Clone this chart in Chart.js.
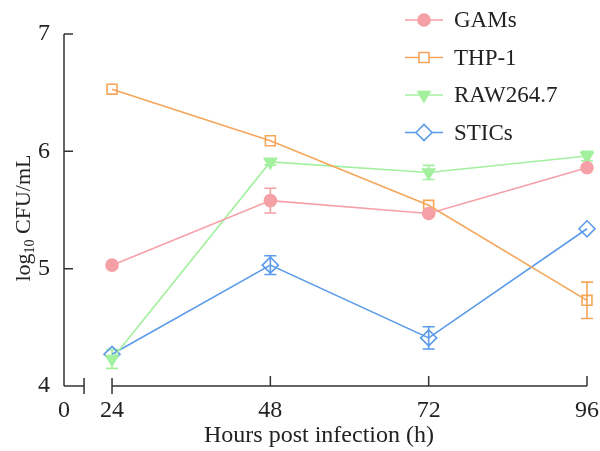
<!DOCTYPE html>
<html>
<head>
<meta charset="utf-8">
<script src="https://cdn.jsdelivr.net/npm/chart.js@4.4.0/dist/chart.umd.min.js"></script>
<style>
  html, body { margin: 0; padding: 0; background: #fff; }
  #wrap { width: 600px; height: 451px; position: relative; }
</style>
</head>
<body>
<div id="wrap"><canvas id="grafico"></canvas></div>
<script>
// datos
var hours = [24, 48, 72, 96];
var gams = [5.03, 5.58, 5.47, 5.86];
var gamsErr = [0, 0.105, 0, 0];
var thp1 = [6.53, 6.09, 5.54, 4.73];
var thp1Err = [0, 0, 0, 0.155];
var raw = [4.23, 5.91, 5.82, 5.96];
var rawErr = [0.08, 0.025, 0.06, 0.04];
var stics = [4.27, 5.03, 4.41, 5.34];
var sticsErr = [0, 0.08, 0.095, 0];
var yTicks = [4, 5, 6, 7];
var xTicks = [24, 48, 72, 96];

var FONT = '"Liberation Serif", "Times New Roman", serif';
var X_MIN = 16.72;   // inicio del eje (se rotula "0")
var X_BREAK = 19.76; // marca de corte del eje

function puntos(vals) {
    return hours.map(function (h, i) { return { x: h, y: vals[i] }; });
}

var series = [
    { label: 'GAMs', data: gams, err: gamsErr, color: '#F5A0A6', style: 'circle', radius: 6, fill: true, rot: 0 },
    { label: 'THP-1', data: thp1, err: thp1Err, color: '#F5A65B', style: 'rect', radius: 7, fill: false, rot: 0 },
    { label: 'RAW264.7', data: raw, err: rawErr, color: '#A3F09E', style: 'triangle', radius: 7, fill: true, rot: 180 },
    { label: 'STICs', data: stics, err: sticsErr, color: '#5B9BEA', style: 'rectRot', radius: 8, fill: false, rot: 0 }
];

// barras de error
var barrasError = {
    id: 'barrasError',
    beforeDatasetsDraw: function (chart) {
        var ctx = chart.ctx, ys = chart.scales.y, xs = chart.scales.x;
        ctx.save();
        series.forEach(function (s) {
            ctx.strokeStyle = s.color;
            ctx.lineWidth = 1.6;
            s.data.forEach(function (v, i) {
                if (!s.err[i]) return;
                var x = xs.getPixelForValue(hours[i]);
                var y1 = ys.getPixelForValue(v + s.err[i]);
                var y2 = ys.getPixelForValue(v - s.err[i]);
                ctx.beginPath();
                ctx.moveTo(x, y1); ctx.lineTo(x, y2);
                ctx.moveTo(x - 6, y1); ctx.lineTo(x + 6, y1);
                ctx.moveTo(x - 6, y2); ctx.lineTo(x + 6, y2);
                ctx.stroke();
            });
        });
        ctx.restore();
    }
};

// ejes con marcas hacia dentro y corte en el eje X
var ejes = {
    id: 'ejes',
    afterDraw: function (chart) {
        var ctx = chart.ctx, a = chart.chartArea;
        var xs = chart.scales.x, ys = chart.scales.y;
        ctx.save();
        ctx.strokeStyle = '#333';
        ctx.lineWidth = 1.5;
        ctx.beginPath();
        ctx.moveTo(a.left, a.top); ctx.lineTo(a.left, a.bottom);
        yTicks.forEach(function (t) {
            var y = ys.getPixelForValue(t);
            ctx.moveTo(a.left, y); ctx.lineTo(a.left + 9, y);
        });
        var xb = xs.getPixelForValue(X_BREAK);
        var x24 = xs.getPixelForValue(xTicks[0]);
        ctx.moveTo(a.left, a.bottom); ctx.lineTo(xb, a.bottom);
        ctx.moveTo(xb, a.bottom - 8); ctx.lineTo(xb, a.bottom + 8);
        ctx.moveTo(x24, a.bottom - 8); ctx.lineTo(x24, a.bottom + 8);
        ctx.moveTo(x24, a.bottom); ctx.lineTo(a.right, a.bottom);
        xTicks.slice(1).forEach(function (t) {
            var x = xs.getPixelForValue(t);
            ctx.moveTo(x, a.bottom); ctx.lineTo(x, a.bottom - 10);
        });
        ctx.stroke();

        // títulos
        ctx.fillStyle = '#222';
        ctx.font = '24px ' + FONT;
        ctx.textAlign = 'center';
        ctx.textBaseline = 'middle';
        ctx.fillText('Hours post infection (h)', 319, 436);

        ctx.translate(22, 218);
        ctx.rotate(-Math.PI / 2);
        ctx.textAlign = 'left';
        ctx.textBaseline = 'alphabetic';
        var big = '22px ' + FONT, small = '14px ' + FONT;
        ctx.font = big; var w1 = ctx.measureText('log').width;
        ctx.font = small; var w2 = ctx.measureText('10').width;
        ctx.font = big; var w3 = ctx.measureText(' CFU/mL').width;
        var x0 = -(w1 + w2 + w3) / 2;
        ctx.fillText('log', x0, 8);
        ctx.font = small; ctx.fillText('10', x0 + w1, 12);
        ctx.font = big; ctx.fillText(' CFU/mL', x0 + w1 + w2, 8);
        ctx.restore();

        // leyenda
        ctx.save();
        series.forEach(function (s, i) {
            var y = 20 + i * 37.5;
            ctx.strokeStyle = s.color;
            ctx.fillStyle = s.fill ? s.color : '#fff';
            ctx.lineWidth = 1.6;
            ctx.beginPath(); ctx.moveTo(405, y); ctx.lineTo(443, y); ctx.stroke();
            Chart.helpers.drawPoint(ctx, { pointStyle: s.style, radius: s.radius, rotation: s.rot, borderWidth: 1.6 }, 424, y);
            ctx.fillStyle = '#222';
            ctx.font = '23px ' + FONT;
            ctx.textAlign = 'left';
            ctx.textBaseline = 'middle';
            ctx.fillText(s.label, 454, y + 1);
        });
        ctx.restore();
    }
};

var ctxGrafico = document.getElementById('grafico').getContext('2d');
var grafico = new Chart(ctxGrafico, {
    type: 'line',
    data: {
        datasets: series.map(function (s) {
            return {
                label: s.label,
                data: puntos(s.data),
                borderColor: s.color,
                backgroundColor: s.fill ? s.color : '#fff',
                borderWidth: 1.6,
                pointStyle: s.style,
                pointRadius: s.radius,
                pointRotation: s.rot,
                pointBorderWidth: 1.6,
                pointBackgroundColor: s.fill ? s.color : 'rgba(255,255,255,0)',
                pointBorderColor: s.color,
                fill: false,
                clip: false,
                tension: 0
            };
        })
    },
    options: {
        responsive: true,
        maintainAspectRatio: false,
        animation: false,
        layout: { padding: { top: 34, right: 13, left: 0, bottom: 0 } },
        plugins: { legend: { display: false }, tooltip: { enabled: false } },
        scales: {
            x: {
                type: 'linear',
                min: X_MIN,
                max: 96,
                grid: { display: false },
                border: { display: false },
                afterBuildTicks: function (scale) {
                    scale.ticks = [{ value: X_MIN }].concat(xTicks.map(function (t) { return { value: t }; }));
                },
                afterFit: function (scale) {
                    scale.height = 65;
                    scale.paddingLeft = 0;
                    scale.paddingRight = 0;
                },
                ticks: {
                    padding: 2,
                    maxRotation: 0,
                    autoSkip: false,
                    color: '#222',
                    font: { family: FONT, size: 24 },
                    callback: function (v) { return v === X_MIN ? '0' : v; }
                }
            },
            y: {
                min: 4,
                max: 7,
                grid: { display: false },
                border: { display: false },
                afterFit: function (scale) {
                    scale.width = 64;
                    scale.paddingTop = 0;
                    scale.paddingBottom = 0;
                },
                ticks: {
                    stepSize: 1,
                    padding: 6,
                    color: '#222',
                    font: { family: FONT, size: 24 }
                }
            }
        }
    },
    plugins: [barrasError, ejes]
});
</script>
</body>
</html>
